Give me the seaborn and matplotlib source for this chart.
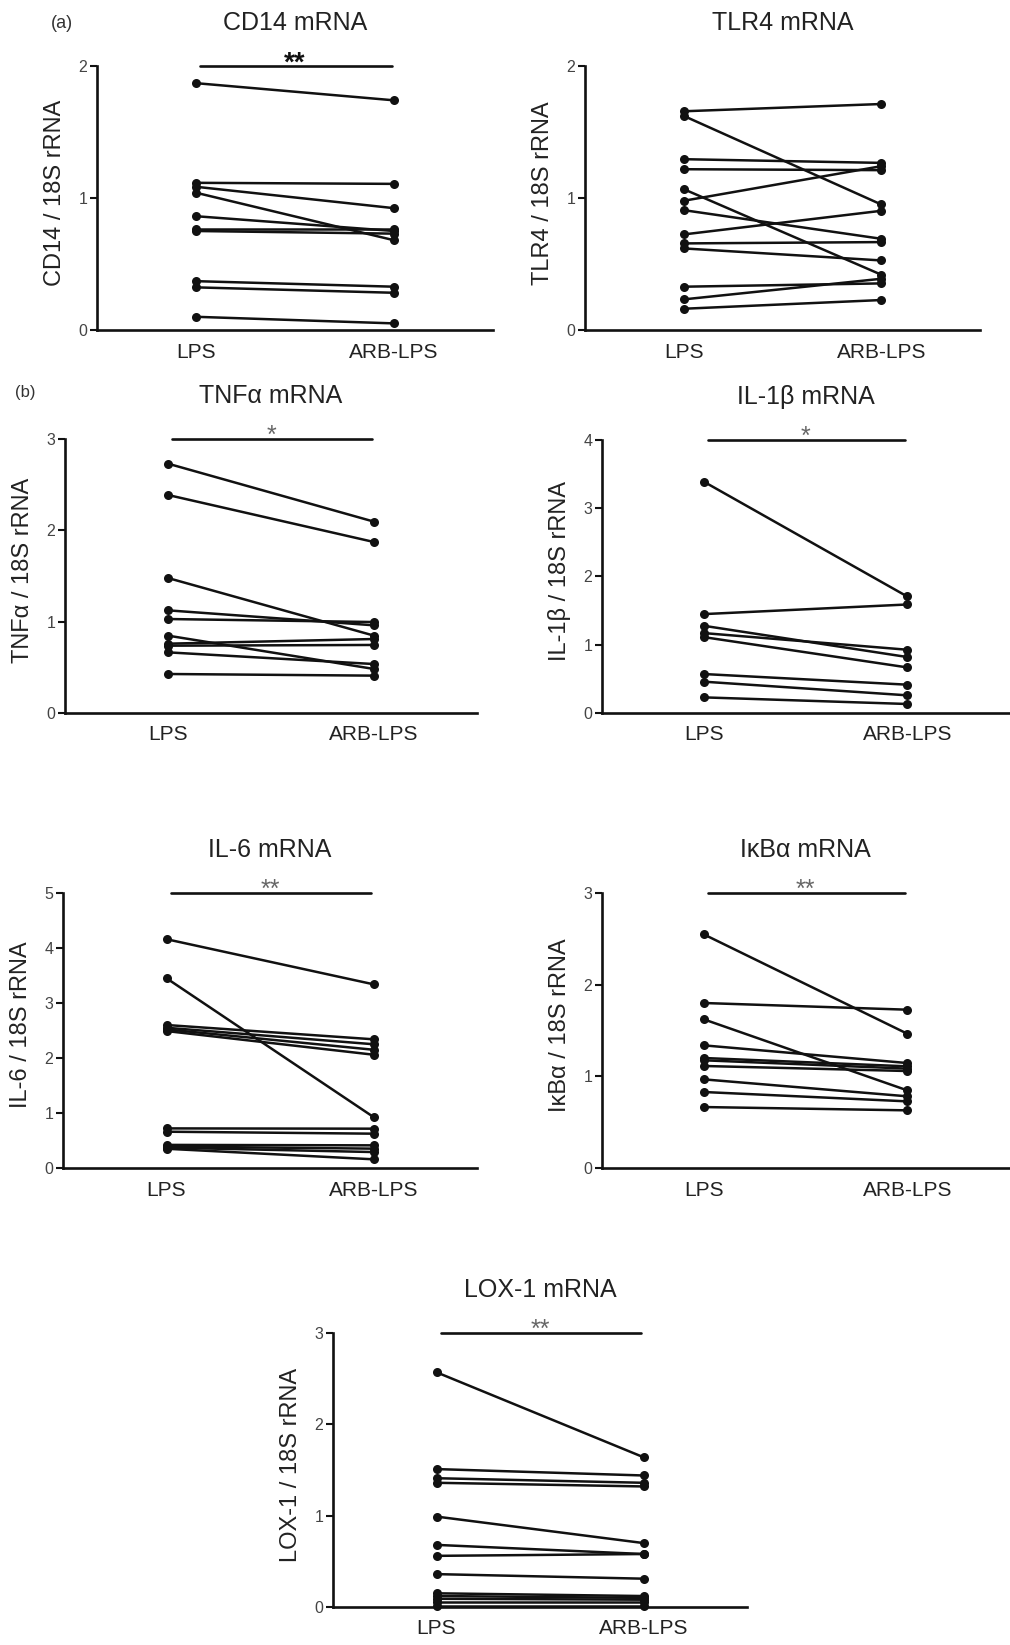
import pandas as pd
import seaborn as sns
import matplotlib.pyplot as plt

# values (LPS vs ARB-LPS, paired per donor)
conds = ["LPS", "ARB-LPS"]

cd14_lps = [1.87, 1.115, 1.085, 1.04, 0.862, 0.767, 0.75, 0.37, 0.323, 0.10]
cd14_arb = [1.74, 1.107, 0.923, 0.68, 0.75, 0.767, 0.73, 0.328, 0.282, 0.05]

tlr4_lps = [1.657, 1.622, 1.294, 1.218, 1.067, 0.979, 0.908, 0.724, 0.656, 0.618, 0.328, 0.232, 0.161]
tlr4_arb = [1.712, 0.951, 1.266, 1.211, 0.419, 1.241, 0.691, 0.903, 0.666, 0.527, 0.353, 0.388, 0.227]

tnf_lps = [2.73, 2.387, 1.478, 1.124, 1.029, 0.847, 0.759, 0.737, 0.664, 0.427]
tnf_arb = [2.095, 1.872, 0.847, 0.96, 0.996, 0.482, 0.81, 0.745, 0.536, 0.409]

il1b_lps = [3.39, 1.449, 1.278, 1.171, 1.112, 0.571, 0.459, 0.229]
il1b_arb = [1.707, 1.59, 0.82, 0.927, 0.668, 0.415, 0.259, 0.132]

il6_lps = [4.16, 3.45, 2.60, 2.55, 2.52, 2.49, 0.72, 0.66, 0.42, 0.39, 0.37, 0.35]
il6_arb = [3.34, 0.927, 2.34, 2.25, 2.15, 2.06, 0.715, 0.624, 0.412, 0.352, 0.29, 0.158]

ikba_lps = [2.549, 1.80, 1.622, 1.338, 1.20, 1.175, 1.113, 0.967, 0.829, 0.665]
ikba_arb = [1.465, 1.727, 0.847, 1.145, 1.109, 1.084, 1.058, 0.782, 0.727, 0.629]

lox_lps = [2.57, 1.51, 1.41, 1.36, 0.99, 0.68, 0.56, 0.36, 0.15, 0.12, 0.09, 0.05, 0.01]
lox_arb = [1.64, 1.44, 1.36, 1.32, 0.70, 0.58, 0.58, 0.31, 0.12, 0.10, 0.08, 0.05, 0.01]

sns.set_style("ticks")
plt.rcParams["font.family"] = ["Liberation Sans", "DejaVu Sans"]

W, H = 1010, 1645
fig = plt.figure(figsize=(W / 100, H / 100), dpi=100)

# name, ylabel, lps, arb, ymax, star, box (left, bottom, width, height) in px
panels = [
    ("CD14 mRNA", "CD14 / 18S rRNA", cd14_lps, cd14_arb, 2, "**", (97, 330, 396, 264)),
    ("TLR4 mRNA", "TLR4 / 18S rRNA", tlr4_lps, tlr4_arb, 2, None, (585, 330, 395, 264)),
    ("TNFα mRNA", "TNFα / 18S rRNA", tnf_lps, tnf_arb, 3, "*", (65, 713, 412, 274)),
    ("IL-1β mRNA", "IL-1β / 18S rRNA", il1b_lps, il1b_arb, 4, "*", (602, 713, 407, 273)),
    ("IL-6 mRNA", "IL-6 / 18S rRNA", il6_lps, il6_arb, 5, "**", (63, 1168, 414, 275)),
    ("IκBα mRNA", "IκBα / 18S rRNA", ikba_lps, ikba_arb, 3, "**", (602, 1168, 407, 275)),
    ("LOX-1 mRNA", "LOX-1 / 18S rRNA", lox_lps, lox_arb, 3, "**", (333, 1607, 414, 274)),
]

for i, (title, ylab, lps, arb, ymax, star, box) in enumerate(panels):
    l, b, w, h = box
    ax = fig.add_axes([l / W, 1 - b / H, w / W, h / H])
    n = len(lps)
    df = pd.DataFrame({
        "cond": [conds[0]] * n + [conds[1]] * n,
        "val": lps + arb,
        "pair": list(range(n)) * 2,
    })
    sns.lineplot(data=df, x="cond", y="val", units="pair", estimator=None,
                 color="#111111", marker="o", markersize=6.5, markeredgewidth=0,
                 linewidth=1.8, ax=ax, legend=False)
    for ln in ax.lines:
        ln.set_clip_on(False)

    ax.set_xlim(-0.5, 1.5)
    ax.set_ylim(0, ymax)
    ax.set_yticks(range(ymax + 1))
    sns.despine(ax=ax)
    for s in ("left", "bottom"):
        ax.spines[s].set_linewidth(1.9)
        ax.spines[s].set_color("#111111")
    ax.tick_params(axis="y", length=5, width=1.5, pad=2, labelsize=11.5,
                   labelcolor="#444444", color="#111111")
    ax.tick_params(axis="x", length=0, pad=9, labelsize=15, labelcolor="#222222")
    ax.set_xlabel("")
    ax.set_ylabel(ylab, fontsize=17, color="#222222")
    ax.yaxis.set_label_coords(-31 / w, 0.52)
    ax.set_title(title, fontsize=18, color="#222222", pad=26)

    if star:
        ax.plot([0.02, 0.99], [ymax, ymax], color="#111111", lw=1.9, clip_on=False)
        bold = i == 0
        ax.annotate(star, xy=(0.5, ymax), xytext=(0, -3), textcoords="offset points",
                    ha="center", va="baseline",
                    fontsize=20 if bold else 18,
                    fontweight="bold" if bold else "normal",
                    color="#111111" if bold else "#666666",
                    annotation_clip=False)

fig.text(62 / W, 1 - 23 / H, "(a)", fontsize=13, color="#333333", ha="center", va="center")
fig.text(25 / W, 1 - 393 / H, "(b)", fontsize=12, color="#333333", ha="center", va="center")

fig.savefig("out.png", dpi=100, facecolor="white")
